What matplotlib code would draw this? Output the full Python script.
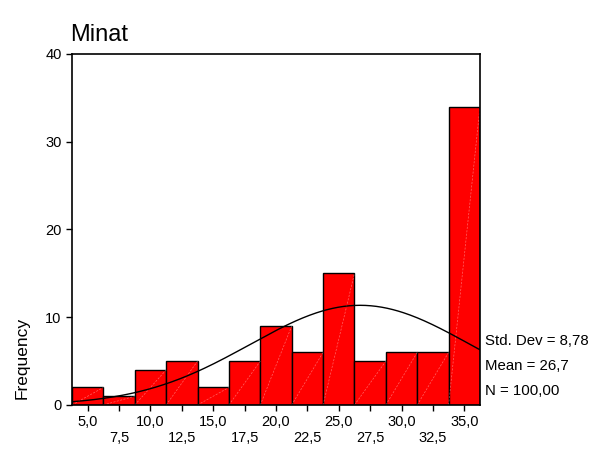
import numpy as np
import matplotlib.pyplot as plt

plt.rcParams['font.family'] = ['Liberation Sans', 'DejaVu Sans']

centers = [5.0, 7.5, 10.0, 12.5, 15.0, 17.5, 20.0, 22.5, 25.0, 27.5, 30.0, 32.5, 35.0]
counts = [2, 1, 4, 5, 2, 5, 9, 6, 15, 5, 6, 6, 34]
tick_labels = ["5,0", "7,5", "10,0", "12,5", "15,0", "17,5", "20,0",
               "22,5", "25,0", "27,5", "30,0", "32,5", "35,0"]
mean, sd, n = 26.7, 8.78, 100
width = 2.5

fig = plt.figure(figsize=(5.96, 4.61), dpi=100)
ax = fig.add_axes([0.1208, 0.1215, 0.6846, 0.7614])

bars = ax.bar(centers, counts, width=width, color='#ff0000', edgecolor='black', linewidth=1.0)
# faint diagonal streak inside each bar
for b in bars:
    x0 = b.get_x()
    ax.plot([x0, x0 + width], [0, b.get_height()], color='white', lw=0.5, alpha=0.4,
            linestyle=(0, (3, 2)))

lo, hi = centers[0] - width / 2, centers[-1] + width / 2
xs = np.linspace(lo, hi, 300)
ys = n * width / (sd * np.sqrt(2 * np.pi)) * np.exp(-0.5 * ((xs - mean) / sd) ** 2)
ax.plot(xs, ys, color='black', lw=1.0)

ax.set_xlim(lo, hi)
ax.set_ylim(0, 40)
ax.set_yticks([0, 10, 20, 30, 40])
ax.set_xticks(centers)
ax.set_xticklabels([t if i % 2 == 0 else "\n" + t for i, t in enumerate(tick_labels)])
ax.tick_params(labelsize=10.5, direction='out', length=4, width=1)
ax.tick_params(axis='x', pad=3)
for s in ax.spines.values():
    s.set_linewidth(1.2)

ax.set_ylabel('Frequency', fontsize=12.5)
ax.yaxis.set_label_coords(-0.105, 0.134)

fig.text(0.118, 0.924, 'Minat', fontsize=17, va='center', ha='left')
fig.text(0.814, 0.260, 'Std. Dev = 8,78', fontsize=10.8, va='center')
fig.text(0.814, 0.206, 'Mean = 26,7', fontsize=10.8, va='center')
fig.text(0.814, 0.152, 'N = 100,00', fontsize=10.8, va='center')

fig.savefig('out.png', dpi=100)
